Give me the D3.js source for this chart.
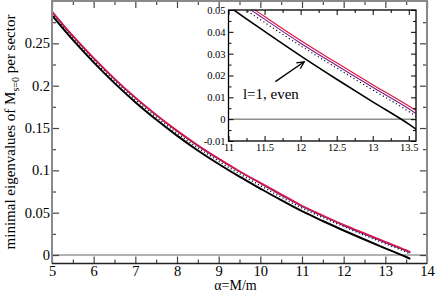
<!DOCTYPE html>
<html>
<head>
<meta charset="utf-8">
<script src="https://cdn.jsdelivr.net/npm/d3@7"></script>
<style>
  body { margin: 0; background: #fff; }
  text { font-family: "Liberation Serif", "Times New Roman", serif; fill: #000; }
</style>
</head>
<body>
<svg id="chart"></svg>
<script>
// alpha = M/m grid
let alpha = [5, 5.5, 6, 6.5, 7, 7.5, 8, 8.5, 9, 9.5, 10, 10.5, 11, 11.5, 12, 12.5, 13, 13.5, 13.6]

// four curves
let blackVals  = [0.283, 0.254, 0.2275, 0.203, 0.1805, 0.160, 0.141, 0.1235, 0.1075, 0.0925, 0.0785, 0.0648, 0.0518, 0.0402, 0.029, 0.0183, 0.0079, -0.0023, -0.0046]
let dottedVals = [0.2855, 0.2566, 0.2302, 0.2058, 0.1834, 0.163, 0.1441, 0.1267, 0.1108, 0.0959, 0.082, 0.0684, 0.0555, 0.0443, 0.0336, 0.0234, 0.0134, 0.0035, 0.0013]
let purpleVals = [0.287, 0.2582, 0.2319, 0.2076, 0.1853, 0.165, 0.1462, 0.1289, 0.1131, 0.0983, 0.0845, 0.0708, 0.0573, 0.0458, 0.0348, 0.0246, 0.0146, 0.0048, 0.0026]
let redVals    = [0.288, 0.2592, 0.2329, 0.2086, 0.1863, 0.166, 0.1472, 0.1299, 0.1141, 0.0993, 0.0855, 0.072, 0.0585, 0.047, 0.036, 0.0258, 0.0158, 0.006, 0.0039]

// main axes ticks
let xTicks = [5, 6, 7, 8, 9, 10, 11, 12, 13, 14]
let xMinor = [5.5, 6.5, 7.5, 8.5, 9.5, 10.5, 11.5, 12.5, 13.5]
let yTicks = [0, 0.05, 0.1, 0.15, 0.2, 0.25]
let yTickLabels = ["0", "0.05", "0.1", "0.15", "0.2", "0.25"]
let yMinor = [0.025, 0.075, 0.125, 0.175, 0.225, 0.275]

// inset ticks
let inXTicks = [11, 11.5, 12, 12.5, 13, 13.5]
let inXMinor = [11.25, 11.75, 12.25, 12.75, 13.25]
let inYTicks = [-0.01, 0, 0.01, 0.02, 0.03, 0.04, 0.05]
let inYTickLabels = ["-0.01", "0", "0.01", "0.02", "0.03", "0.04", "0.05"]
let inYMinor = [-0.005, 0.005, 0.015, 0.025, 0.035, 0.045]

// annotation (inset data coords)
let noteText = "l=1, even"
let notePos = [11.2, 0.0093]
let arrowFrom = [11.65, 0.0172]
let arrowTo = [12.05, 0.0263]

let w = 436
let h = 294

let svg = d3.select("#chart").attr("width", w).attr("height", h)
svg.append("rect").attr("width", w).attr("height", h).attr("fill", "#fff")

let series = [
  {vals: blackVals, color: "#000", width: 2, dash: null},
  {vals: dottedVals, color: "#000", width: 1.5, dash: "1,2.5"},
  {vals: purpleVals, color: "#7b1f8c", width: 1.3, dash: null},
  {vals: redVals, color: "#e0103a", width: 1.3, dash: null}
]

let drawAxes = (g, x, y, o) => {
  let x0 = x.range()[0], x1 = x.range()[1]
  let y0 = y.range()[0], y1 = y.range()[1]

  let bottom = d3.axisBottom(x).tickValues(o.xTicks).tickSize(-o.major).tickSizeOuter(0).tickPadding(o.pad)
                 .tickFormat(o.xFormat)
  let bottomMin = d3.axisBottom(x).tickValues(o.xMinor).tickSize(-o.minor).tickSizeOuter(0).tickFormat("")
  let top = d3.axisTop(x).tickValues(o.xTicks).tickSize(-o.major).tickSizeOuter(0).tickFormat("")
  let topMin = d3.axisTop(x).tickValues(o.xMinor).tickSize(-o.minor).tickSizeOuter(0).tickFormat("")
  let left = d3.axisLeft(y).tickValues(o.yTicks).tickSize(-o.major).tickSizeOuter(0).tickPadding(o.pad)
               .tickFormat((d, i) => o.yLabels[i])
  let leftMin = d3.axisLeft(y).tickValues(o.yMinor).tickSize(-o.minor).tickSizeOuter(0).tickFormat("")
  let right = d3.axisRight(y).tickValues(o.yTicks).tickSize(-o.major).tickSizeOuter(0).tickFormat("")
  let rightMin = d3.axisRight(y).tickValues(o.yMinor).tickSize(-o.minor).tickSizeOuter(0).tickFormat("")

  let put = (ax, tr) => {
    let a = g.append("g").attr("transform", tr).call(ax)
    a.select(".domain").remove()
    a.selectAll("line").attr("stroke", o.tickColor).attr("stroke-width", o.tickWidth)
    a.selectAll("text").style("font-family", "'Liberation Serif', 'Times New Roman', serif")
     .style("font-size", o.fontSize + "px").attr("fill", "#000")
    return a
  }
  put(bottom, "translate(0," + y0 + ")")
  put(bottomMin, "translate(0," + y0 + ")")
  put(top, "translate(0," + y1 + ")")
  put(topMin, "translate(0," + y1 + ")")
  put(left, "translate(" + x0 + ",0)")
  put(leftMin, "translate(" + x0 + ",0)")
  put(right, "translate(" + x1 + ",0)")
  put(rightMin, "translate(" + x1 + ",0)")
}

// ---------- main plot ----------
let xScale = d3.scaleLinear().domain([5, 14]).range([52, 427])
let yScale = d3.scaleLinear().domain([-0.01, 0.3]).range([263.5, 1])

let main = svg.append("g")

main.append("line")
    .attr("x1", xScale(5)).attr("x2", xScale(14))
    .attr("y1", yScale(0)).attr("y2", yScale(0))
    .attr("stroke", "#999").attr("stroke-width", 1.5)

let line = d3.line()
             .x((d) => xScale(d[0]))
             .y((d) => yScale(d[1]))
             .curve(d3.curveMonotoneX)

series.forEach((s) => {
  main.append("path")
      .datum(alpha.map((a, i) => [a, s.vals[i]]))
      .attr("d", line)
      .attr("fill", "none")
      .attr("stroke", s.color)
      .attr("stroke-width", s.width)
      .attr("stroke-dasharray", s.dash)
})

drawAxes(main, xScale, yScale, {
  xTicks: xTicks, xMinor: xMinor, yTicks: yTicks, yMinor: yMinor, yLabels: yTickLabels,
  xFormat: d3.format("d"), major: 7, minor: 4, pad: 2, fontSize: 14.5, tickColor: "#444", tickWidth: 1.2
})

// frame
main.append("path")
    .attr("d", "M" + xScale(5) + "," + yScale(-0.01) + "V" + yScale(0.3) + "H" + xScale(14) + "V" + yScale(-0.01))
    .attr("fill", "none").attr("stroke", "#8a8a8a").attr("stroke-width", 2)
main.append("line")
    .attr("x1", xScale(5)).attr("x2", xScale(14))
    .attr("y1", yScale(-0.01)).attr("y2", yScale(-0.01))
    .attr("stroke", "#222").attr("stroke-width", 1.5)

svg.append("text")
   .attr("x", (xScale(5) + xScale(14)) / 2 - 4)
   .attr("y", 290)
   .attr("text-anchor", "middle")
   .style("font-size", "14px")
   .text("α=M/m")

let yLab = svg.append("text")
   .attr("transform", "translate(15," + 132 + ") rotate(-90)")
   .attr("text-anchor", "middle")
   .style("font-size", "15px")
yLab.append("tspan").text("minimal eigenvalues of M")
yLab.append("tspan").attr("dy", 4).style("font-size", "10px").text("s=0")
yLab.append("tspan").attr("dy", -4).text(" per sector")

// ---------- inset ----------
let ix = d3.scaleLinear().domain([11, 13.6]).range([228.5, 416])
let iy = d3.scaleLinear().domain([-0.01, 0.05]).range([141, 10])

let inset = svg.append("g")
inset.append("rect")
     .attr("x", ix(11)).attr("y", iy(0.05))
     .attr("width", ix(13.6) - ix(11)).attr("height", iy(-0.01) - iy(0.05))
     .attr("fill", "#fff")

svg.append("clipPath").attr("id", "insetClip")
   .append("rect")
   .attr("x", ix(11)).attr("y", iy(0.05))
   .attr("width", ix(13.6) - ix(11)).attr("height", iy(-0.01) - iy(0.05))

inset.append("line")
     .attr("x1", ix(11)).attr("x2", ix(13.6))
     .attr("y1", iy(0)).attr("y2", iy(0))
     .attr("stroke", "#555").attr("stroke-width", 1)

let iline = d3.line()
              .x((d) => ix(d[0]))
              .y((d) => iy(d[1]))
              .curve(d3.curveMonotoneX)

let curves = inset.append("g").attr("clip-path", "url(#insetClip)")
series.forEach((s) => {
  curves.append("path")
        .datum(alpha.map((a, i) => [a, s.vals[i]]))
        .attr("d", iline)
        .attr("fill", "none")
        .attr("stroke", s.color)
        .attr("stroke-width", s === series[0] ? 1.6 : 1.1)
        .attr("stroke-dasharray", s.dash ? "1.2,2.6" : null)
})

drawAxes(inset, ix, iy, {
  xTicks: inXTicks, xMinor: inXMinor, yTicks: inYTicks, yMinor: inYMinor, yLabels: inYTickLabels,
  xFormat: d3.format(""), major: 5, minor: 3, pad: 3, fontSize: 10.5, tickColor: "#000", tickWidth: 1
})

inset.append("rect")
     .attr("x", ix(11)).attr("y", iy(0.05))
     .attr("width", ix(13.6) - ix(11)).attr("height", iy(-0.01) - iy(0.05))
     .attr("fill", "none").attr("stroke", "#000").attr("stroke-width", 1.3)

// annotation
inset.append("text")
     .attr("x", ix(notePos[0])).attr("y", iy(notePos[1]))
     .style("font-size", "15px")
     .text(noteText)

let ax1 = ix(arrowFrom[0]), ay1 = iy(arrowFrom[1])
let ax2 = ix(arrowTo[0]), ay2 = iy(arrowTo[1])
let ang = Math.atan2(ay2 - ay1, ax2 - ax1)
let hl = 8
inset.append("line")
     .attr("x1", ax1).attr("y1", ay1).attr("x2", ax2).attr("y2", ay2)
     .attr("stroke", "#000").attr("stroke-width", 1.3)
inset.append("path")
     .attr("d", "M" + (ax2 - hl * Math.cos(ang - 0.45)) + "," + (ay2 - hl * Math.sin(ang - 0.45)) +
                "L" + ax2 + "," + ay2 +
                "L" + (ax2 - hl * Math.cos(ang + 0.45)) + "," + (ay2 - hl * Math.sin(ang + 0.45)))
     .attr("fill", "none").attr("stroke", "#000").attr("stroke-width", 1.3)
</script>
</body>
</html>
